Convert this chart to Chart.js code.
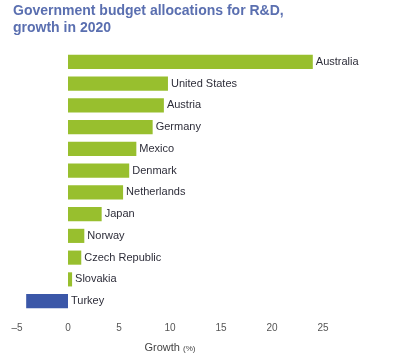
<!DOCTYPE html>
<html>
<head>
<meta charset="utf-8">
<script src="https://cdn.jsdelivr.net/npm/chart.js@4/dist/chart.umd.min.js"></script>
<style>
  html, body { margin: 0; padding: 0; background: #fff; }
  #wrap { position: relative; width: 396px; height: 362px; }
  #title {
    position: absolute; left: 13px; top: 2px;
    font: bold 14px "Liberation Sans", Arial, sans-serif;
    line-height: 17px; color: #5a6fb0;
  }
  canvas { position: absolute; left: 0; top: 0; }
</style>
</head>
<body>
<div id="wrap">
  <canvas id="chart" width="396" height="362"></canvas>
  <div id="title">Government budget allocations for R&amp;D,<br>growth in 2020</div>
</div>
<script>
// Data
const categories = ['Australia', 'United States', 'Austria', 'Germany', 'Mexico', 'Denmark',
    'Netherlands', 'Japan', 'Norway', 'Czech Republic', 'Slovakia', 'Turkey'];
const growth = [24.0, 9.8, 9.4, 8.3, 6.7, 6.0, 5.4, 3.3, 1.6, 1.3, 0.4, -4.1];
const xTicks = [-5, 0, 5, 10, 15, 20, 25];

const GREEN = '#98bf2e';
const BLUE = '#3b57a8';
const FONT = "'Liberation Sans', Arial, sans-serif";

// country names next to the bars
const barLabels = {
    id: 'barLabels',
    afterDatasetsDraw(chart) {
        const ctx = chart.ctx;
        const meta = chart.getDatasetMeta(0);
        ctx.save();
        ctx.font = '11px ' + FONT;
        ctx.fillStyle = '#2e2e3a';
        ctx.textBaseline = 'middle';
        ctx.textAlign = 'left';
        meta.data.forEach((bar, i) => {
            const x = Math.max(bar.x, bar.base) + 3;
            ctx.fillText(categories[i], x, bar.y);
        });
        ctx.restore();
    }
};

// "Growth (%)" with the smaller unit
const axisTitle = {
    id: 'axisTitle',
    afterDraw(chart) {
        const ctx = chart.ctx;
        const area = chart.chartArea;
        const cx = (area.left + area.right) / 2;
        const y = 348;
        ctx.save();
        ctx.fillStyle = '#444444';
        ctx.textBaseline = 'middle';
        ctx.font = '11px ' + FONT;
        const w1 = ctx.measureText('Growth ').width;
        ctx.font = '8px ' + FONT;
        const w2 = ctx.measureText('(%)').width;
        let x = cx - (w1 + w2) / 2;
        ctx.textAlign = 'left';
        ctx.font = '11px ' + FONT;
        ctx.fillText('Growth ', x, y);
        ctx.font = '8px ' + FONT;
        ctx.fillText('(%)', x + w1, y + 1);
        ctx.restore();
    }
};

new Chart(document.getElementById('chart'), {
    type: 'bar',
    data: {
        labels: categories,
        datasets: [{
            data: growth,
            backgroundColor: growth.map(v => v < 0 ? BLUE : GREEN),
            borderWidth: 0,
            categoryPercentage: 1,
            barPercentage: 0.65
        }]
    },
    options: {
        indexAxis: 'y',
        responsive: false,
        animation: false,
        layout: {
            padding: { left: 17, right: 73, top: 51, bottom: 18 }
        },
        plugins: {
            legend: { display: false },
            tooltip: { enabled: false }
        },
        scales: {
            x: {
                min: -5,
                max: 25,
                afterBuildTicks: axis => {
                    axis.ticks = xTicks.map(v => ({ value: v }));
                },
                grid: { display: false, drawTicks: false },
                border: { display: false },
                ticks: {
                    padding: 10,
                    color: '#555555',
                    font: { size: 10, family: FONT },
                    maxRotation: 0,
                    callback: v => v < 0 ? '\u2013' + Math.abs(v) : v
                }
            },
            y: { display: false }
        }
    },
    plugins: [barLabels, axisTitle]
});
</script>
</body>
</html>
